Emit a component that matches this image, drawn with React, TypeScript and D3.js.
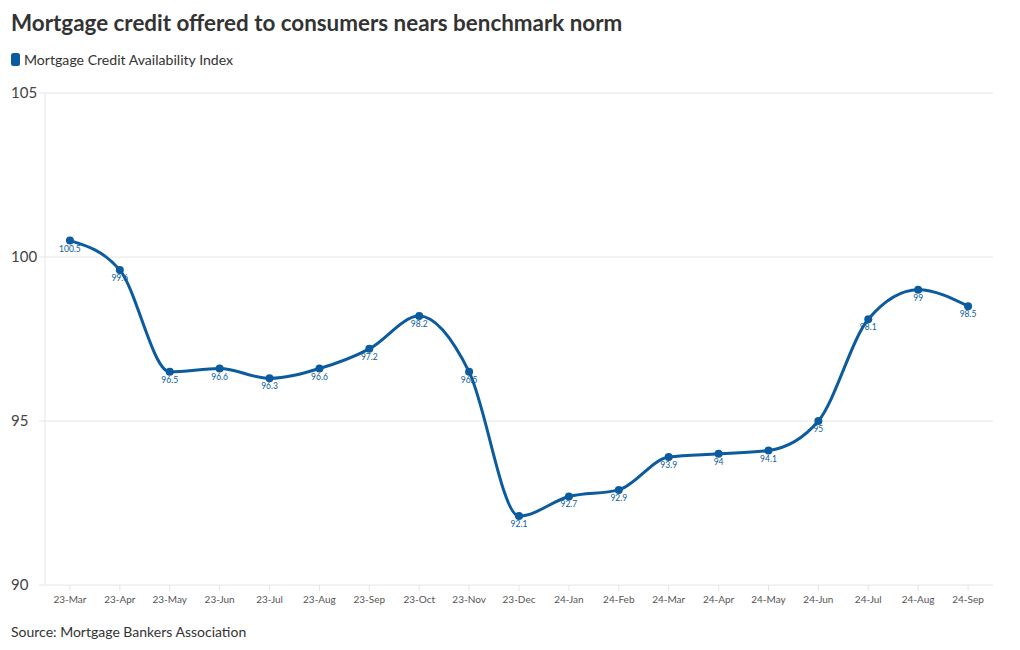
import React from "react";
import * as d3 from "d3";

const categories = ["23-Mar","23-Apr","23-May","23-Jun","23-Jul","23-Aug","23-Sep","23-Oct","23-Nov","23-Dec","24-Jan","24-Feb","24-Mar","24-Apr","24-May","24-Jun","24-Jul","24-Aug","24-Sep"];
const values = [100.5,99.6,96.5,96.6,96.3,96.6,97.2,98.2,96.5,92.1,92.7,92.9,93.9,94,94.1,95,98.1,99,98.5];
const yTicks = [90,95,100,105];

const W = 1020, H = 650;
const left = 45, right = 993, top = 93, bottom = 585;
const color = "#0b5b9e";
const font = "Lato, 'Noto Sans', sans-serif";

export default function App() {
  const x = d3.scalePoint<string>().domain(categories).range([left, right]).padding(0.5);
  const y = d3.scaleLinear().domain([90, 105]).range([bottom, top]);
  const line = d3.line<number>().x((_, i) => x(categories[i])!).y(d => y(d)).curve(d3.curveMonotoneX);
  return (
    <svg width={W} height={H} style={{ position: "absolute", left: 0, top: 0, background: "#fff" }} fontFamily={font}>
      <text x={11} y={31} fontSize={22.4} fontWeight={700} fill="#333">Mortgage credit offered to consumers nears benchmark norm</text>
      <rect x={11} y={53} width={9} height={13} rx={2.5} fill={color} />
      <text x={24} y={64.5} fontSize={14.1} fill="#333">Mortgage Credit Availability Index</text>
      {yTicks.map(t => (
        <g key={t}>
          <line x1={left} x2={right} y1={y(t)} y2={y(t)} stroke="#e6e6e6" strokeWidth={1} />
          <line x1={left - 6} x2={left} y1={y(t)} y2={y(t)} stroke="#e6e6e6" strokeWidth={1} />
          <text x={11} y={y(t) + 5} fontSize={15} fill="#444">{t}</text>
        </g>
      ))}
      <line x1={left} x2={left} y1={top} y2={bottom} stroke="#e6e6e6" strokeWidth={1} />
      {categories.map(c => (
        <g key={c}>
          <line x1={x(c)} x2={x(c)} y1={bottom} y2={bottom + 6} stroke="#e6e6e6" />
          <text x={x(c)} y={bottom + 18} fontSize={10} fill="#555" textAnchor="middle">{c}</text>
        </g>
      ))}
      <path d={line(values) || ""} fill="none" stroke={color} strokeWidth={3} />
      {values.map((v, i) => (
        <g key={i}>
          <circle cx={x(categories[i])} cy={y(v)} r={4} fill={color} />
          <text x={x(categories[i])} y={y(v) + 11} fontSize={8.5} fill={color} textAnchor="middle">{v}</text>
        </g>
      ))}
      <text x={11} y={637} fontSize={14} fill="#333">Source: Mortgage Bankers Association</text>
    </svg>
  );
}
